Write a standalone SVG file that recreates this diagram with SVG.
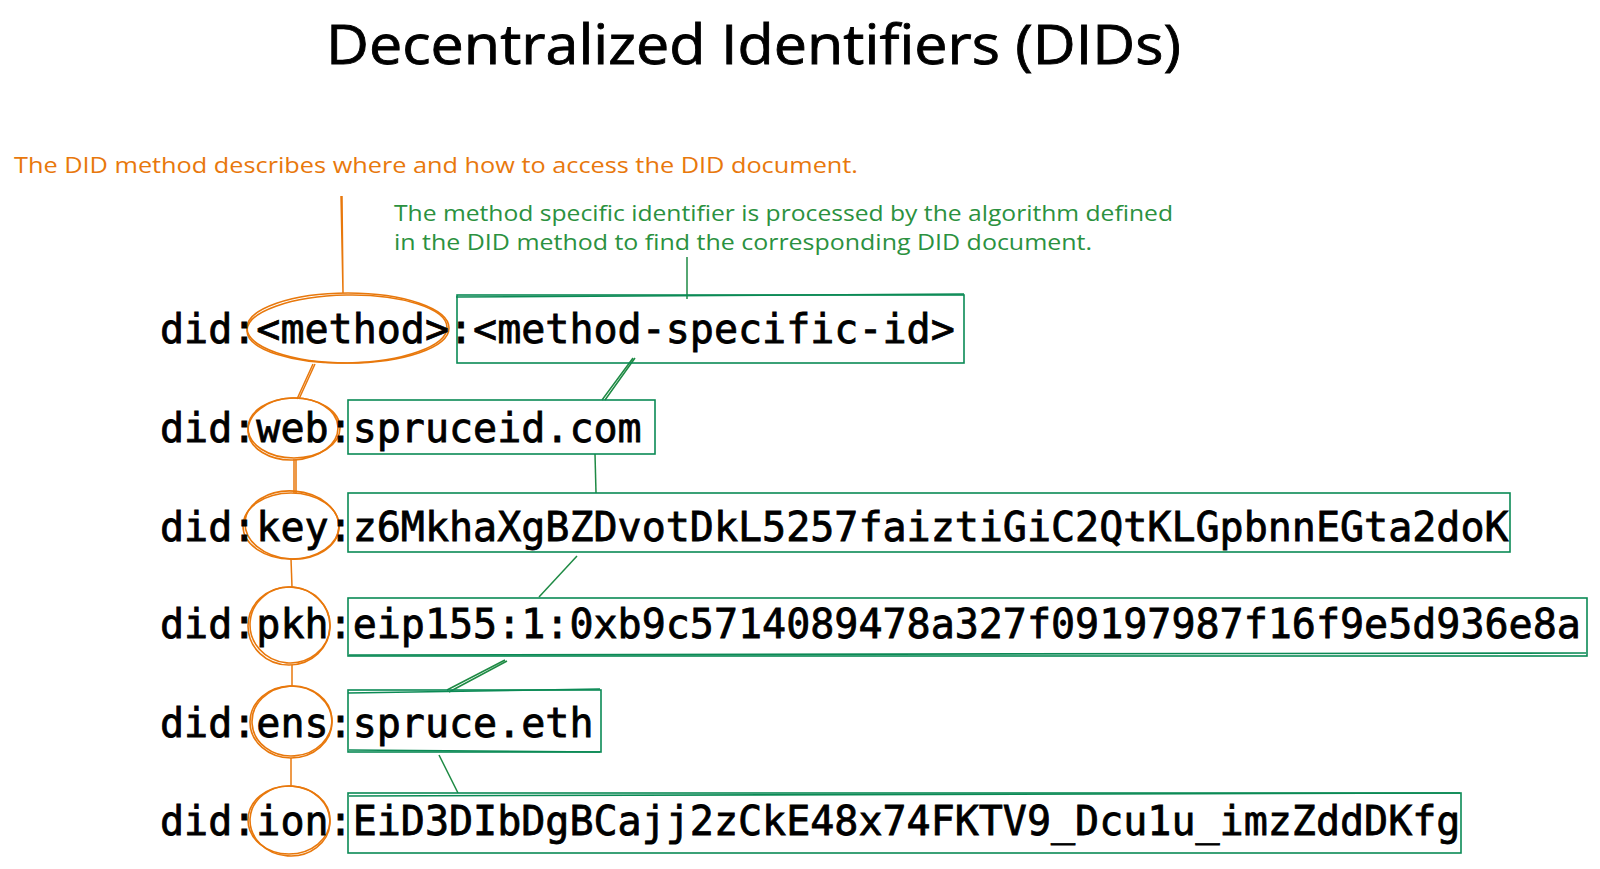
<svg xmlns="http://www.w3.org/2000/svg" width="1600" height="869" viewBox="0 0 1600 869">
<style>
.title{font-family:"Open Sans","Liberation Sans",sans-serif;font-size:54px;fill:#000;stroke:#000;stroke-width:0.8;}
.note-o{font-family:"Open Sans","Liberation Sans",sans-serif;font-size:21px;fill:#e8780c;}
.note-g{font-family:"Open Sans","Liberation Sans",sans-serif;font-size:21px;fill:#2b9140;}
.mono{font-family:"DejaVu Sans Mono","Liberation Mono",monospace;font-size:40px;fill:#000;stroke:#000;stroke-width:0.8;}
.oval{fill:none;stroke:#e8780c;stroke-width:1.6;}
.box{fill:none;stroke:#0b8a55;stroke-width:1.6;}
.lo{stroke:#e8780c;stroke-width:1.5;fill:none;}
.lg{stroke:#1e8a44;stroke-width:1.5;fill:none;}
</style>
<rect width="1600" height="869" fill="#fff"/>
<g id="title"><text class="title" x="326" y="64" textLength="855" lengthAdjust="spacingAndGlyphs">Decentralized Identifiers (DIDs)</text></g>
<g id="note-method"><text class="note-o" x="14" y="173" textLength="844" lengthAdjust="spacingAndGlyphs">The DID method describes where and how to access the DID document.</text></g>
<g id="note-msi">
<text class="note-g" x="394" y="221" textLength="779" lengthAdjust="spacingAndGlyphs">The method specific identifier is processed by the algorithm defined</text>
<text class="note-g" x="394" y="250" textLength="698" lengthAdjust="spacingAndGlyphs">in the DID method to find the corresponding DID document.</text>
</g>
<g id="connectors">
<path class="lo" d="M341 196 L343 293 M342 196 L343 292"/>
<path class="lg" d="M687 257 L687 299"/>
<path class="lo" d="M313 364 L297 399 M315 364 L299 399"/>
<path class="lo" d="M294 459 L294 493 M296 459 L296 493"/>
<path class="lo" d="M291 559 L292 587"/>
<path class="lo" d="M292 665 L292 686"/>
<path class="lo" d="M291 758 L291 786"/>
<path class="lg" d="M633 358 L602 400 M635 358 L605 400"/>
<path class="lg" d="M595 454 L596 493"/>
<path class="lg" d="M577 556 L539 597"/>
<path class="lg" d="M507 661 L449 692 M505 660 L447 690"/>
<path class="lg" d="M439 755 L458 793"/>
</g>
<g id="row-generic">
<ellipse class="oval" cx="348" cy="328" rx="101" ry="35"/>
<ellipse class="oval" cx="347" cy="329" rx="100" ry="34" transform="rotate(-1 347 329)"/>
<rect class="box" x="457" y="295" width="507" height="68"/>
<path class="box" d="M456 297 L964 294"/>
<text class="mono" x="160" y="343">did:&lt;method&gt;:&lt;method-specific-id&gt;</text>
</g>
<g id="row-web">
<ellipse class="oval" cx="294" cy="428" rx="46" ry="30"/>
<ellipse class="oval" cx="293" cy="429" rx="45" ry="31" transform="rotate(-3 293 429)"/>
<rect class="box" x="348" y="400" width="307" height="54"/>
<text class="mono" x="160" y="442">did:web:spruceid.com</text>
</g>
<g id="row-key">
<ellipse class="oval" cx="291" cy="526" rx="48" ry="33"/>
<ellipse class="oval" cx="292" cy="525" rx="47" ry="34" transform="rotate(4 292 525)"/>
<rect class="box" x="348" y="493" width="1162" height="59"/>
<text class="mono" x="160" y="541">did:key:z6MkhaXgBZDvotDkL5257faiztiGiC2QtKLGpbnnEGta2doK</text>
</g>
<g id="row-pkh">
<ellipse class="oval" cx="289" cy="626" rx="41" ry="39"/>
<ellipse class="oval" cx="290" cy="625" rx="40" ry="38" transform="rotate(5 290 625)"/>
<rect class="box" x="348" y="598" width="1239" height="58"/>
<path class="box" d="M349 655 L1586 653"/>
<text class="mono" x="160" y="638">did:pkh:eip155:1:0xb9c5714089478a327f09197987f16f9e5d936e8a</text>
</g>
<g id="row-ens">
<ellipse class="oval" cx="291" cy="722" rx="41" ry="36"/>
<ellipse class="oval" cx="292" cy="721" rx="40" ry="35" transform="rotate(-4 292 721)"/>
<rect class="box" x="348" y="690" width="253" height="62"/>
<path class="box" d="M348 693 L600 689 M349 750 L600 752"/>
<text class="mono" x="160" y="737">did:ens:spruce.eth</text>
</g>
<g id="row-ion">
<ellipse class="oval" cx="289" cy="820" rx="41" ry="34"/>
<ellipse class="oval" cx="290" cy="821" rx="40" ry="35" transform="rotate(4 290 821)"/>
<rect class="box" x="348" y="793" width="1113" height="60"/>
<path class="box" d="M349 796 L1460 793"/>
<text class="mono" x="160" y="835">did:ion:EiD3DIbDgBCajj2zCkE48x74FKTV9_Dcu1u_imzZddDKfg</text>
</g>
</svg>
